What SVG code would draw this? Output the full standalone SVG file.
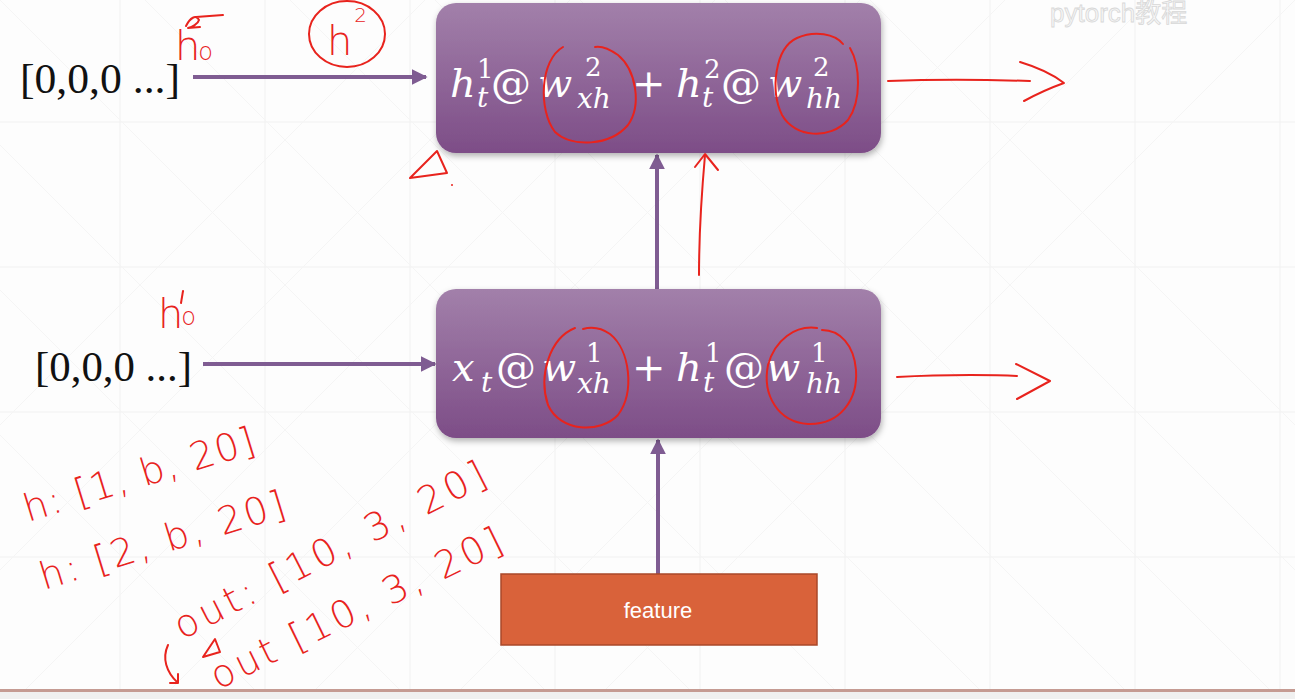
<svg xmlns="http://www.w3.org/2000/svg" width="1295" height="699" viewBox="0 0 1295 699">
<defs>
<linearGradient id="pg" x1="0" y1="0" x2="0" y2="1">
<stop offset="0" stop-color="#a280aa"/>
<stop offset="1" stop-color="#7d4d87"/>
</linearGradient>
<filter id="sh" x="-5%" y="-10%" width="110%" height="125%">
<feDropShadow dx="1" dy="3" stdDeviation="3" flood-color="#000" flood-opacity="0.3"/>
</filter>
<marker id="pa" viewBox="0 0 10 10" refX="9" refY="5" markerWidth="4" markerHeight="4" orient="auto" markerUnits="strokeWidth">
<path d="M0,0 L10,5 L0,10 z" fill="#7f5c92"/>
</marker>
<style>
.grid{stroke:#f1f1f1;stroke-width:1;fill:none}
.conn{stroke:#7f5c92;stroke-width:4;fill:none}
.zero{font-family:"Liberation Serif",serif;font-size:42px;fill:#111}
.m{font-family:"DejaVu Serif",serif;font-style:italic;fill:#fff;font-size:40px}
.mo{font-family:"DejaVu Serif",serif;fill:#fff;font-size:40px}
.mu{font-family:"DejaVu Serif",serif;fill:#fff;font-size:26px}
.ms{font-family:"DejaVu Serif",serif;font-style:italic;fill:#fff;font-size:28px}
.red{stroke:#e8231d;stroke-width:2;fill:none;stroke-linecap:round;stroke-linejoin:round}
.hw{font-family:"DejaVu Sans",sans-serif;font-weight:200;fill:#e8231d}
</style>
</defs>
<rect width="1295" height="699" fill="#fdfdfd"/>
<g id="grid" class="grid">
<path d="M120,0V690M265,0V690M410,0V690M555,0V690M700,0V690M845,0V690M990,0V690M1135,0V690M1280,0V690"/>
<path d="M0,122H1295M0,267H1295M0,412H1295M0,557H1295"/>
<path d="M0,0L690,690M145,0L835,690M290,0L980,690M435,0L1125,690M580,0L1270,690M725,0L1295,570M870,0L1295,425M0,145L545,690M0,290L400,690M0,435L255,690M1295,0L605,690M1150,0L460,690M1005,0L315,690M860,0L170,690M715,0L25,690M570,0L0,570M425,0L0,425" stroke="#f5f5f5"/>
</g>
<text x="1050" y="22" font-family="'Liberation Sans','Noto Sans CJK SC',sans-serif" font-size="26" fill="#f6f6f6" stroke="#d8d8d8" stroke-width="0.8">pytorch教程</text>
<rect x="0" y="689" width="1295" height="3" fill="#c59b93"/>
<rect x="0" y="692" width="1295" height="7" fill="#f0f0f0"/>

<g id="connectors">
<line class="conn" x1="193" y1="77" x2="426" y2="77" marker-end="url(#pa)"/>
<line class="conn" x1="203" y1="364" x2="435" y2="364" marker-end="url(#pa)"/>
<line class="conn" x1="657" y1="289" x2="657" y2="155" marker-end="url(#pa)"/>
<line class="conn" x1="658" y1="574" x2="658" y2="440" marker-end="url(#pa)"/>
</g>

<g id="init2"><text class="zero" x="20" y="93" textLength="160" lengthAdjust="spacingAndGlyphs">[0,0,0 ...]</text></g>
<g id="init1"><text class="zero" x="35" y="381" textLength="157" lengthAdjust="spacingAndGlyphs">[0,0,0 ...]</text></g>

<g id="layer2">
<rect x="436" y="3" width="445" height="150" rx="20" fill="url(#pg)" filter="url(#sh)"/>
<text class="m" x="450" y="97">h</text>
<text class="mu" x="477" y="78">1</text>
<text class="ms" x="477" y="107">t</text>
<text class="mo" x="491" y="97">@</text>
<text class="m" x="538" y="97">w</text>
<text class="mu" x="585" y="76">2</text>
<text class="ms" x="577" y="108">xh</text>
<text class="mo" x="632" y="97">+</text>
<text class="m" x="676" y="97">h</text>
<text class="mu" x="704" y="78">2</text>
<text class="ms" x="702" y="107">t</text>
<text class="mo" x="721" y="97">@</text>
<text class="m" x="768" y="97">w</text>
<text class="mu" x="813" y="76">2</text>
<text class="ms" x="806" y="108">hh</text>
</g>

<g id="layer1">
<rect x="436" y="289" width="445" height="149" rx="20" fill="url(#pg)" filter="url(#sh)"/>
<text class="m" x="452" y="381">x</text>
<text class="ms" x="481" y="392">t</text>
<text class="mo" x="496" y="381">@</text>
<text class="m" x="542" y="381">w</text>
<text class="mu" x="586" y="362">1</text>
<text class="ms" x="577" y="393">xh</text>
<text class="mo" x="632" y="381">+</text>
<text class="m" x="676" y="381">h</text>
<text class="mu" x="705" y="362">1</text>
<text class="ms" x="703" y="392">t</text>
<text class="mo" x="724" y="381">@</text>
<text class="m" x="766" y="381">w</text>
<text class="mu" x="811" y="362">1</text>
<text class="ms" x="806" y="393">hh</text>
</g>

<g id="feature">
<rect x="501" y="574" width="316" height="71" fill="#d9623a" stroke="#a9482a" stroke-width="1.5"/>
<text x="658" y="618" text-anchor="middle" font-family="'Liberation Sans',sans-serif" font-size="22" fill="#fff">feature</text>
</g>

<g id="annotations">
<path class="red" d="M563,47 C540,60 538,110 555,132 C572,148 610,146 628,125 C642,105 636,70 618,55 C608,48 600,46 595,47"/>
<path class="red" d="M843,44 C835,34 815,30 797,38 C775,48 770,90 782,115 C795,138 830,140 848,120 C862,100 860,65 850,48"/>
<path class="red" d="M575,328 C550,338 538,375 548,405 C560,432 600,434 618,415 C635,392 630,350 610,334 C600,327 590,327 583,329"/>
<path class="red" d="M817,328 C795,325 775,340 768,365 C762,395 778,422 808,424 C840,425 858,400 856,370 C854,345 840,330 822,330"/>
<path class="red" d="M888,81 C940,79 1000,80 1030,81"/>
<path class="red" d="M1020,62 C1040,68 1055,76 1064,83 C1050,88 1035,95 1024,101"/>
<path class="red" d="M897,377 C950,374 1000,375 1017,376"/>
<path class="red" d="M1016,364 L1050,381 L1017,399"/>
<path class="red" d="M699,275 C699,240 701,200 705,155"/>
<path class="red" d="M695,167 L705,154 L718,170"/>
<path class="red" d="M410,178 L437,151 L447,173 Z"/>
<circle cx="452" cy="185" r="1" fill="#e8231d"/>
<ellipse class="red" cx="347" cy="34" rx="38" ry="33"/>
<text class="hw" x="327" y="55" font-size="40">h<tspan font-size="20" dx="2" dy="-33">2</tspan></text>
<text class="hw" x="175" y="60" font-size="40">h<tspan font-size="24" dx="-2">o</tspan></text>
<path class="red" d="M186,26 C190,18 196,14 199,20 C198,24 192,27 188,28 L200,27 M196,17 L223,15"/>
<text class="hw" x="158" y="328" font-size="40">h<tspan font-size="24" dx="-2" dy="-3">o</tspan></text>
<path class="red" d="M183,291 L181,303"/>
<text class="hw" font-size="38" textLength="240" transform="translate(28,522) rotate(-17)">h: [1, b, 20]</text>
<text class="hw" font-size="38" textLength="255" transform="translate(44,590) rotate(-17)">h: [2, b, 20]</text>
<text class="hw" font-size="38" textLength="345" transform="translate(182,640) rotate(-27)">out: [10, 3, 20]</text>
<text class="hw" font-size="38" textLength="320" transform="translate(218,690) rotate(-26)">out [10, 3, 20]</text>
<path class="red" d="M203,657 L215,639 L220,652 Z"/>
<path class="red" d="M168,645 C162,658 166,672 178,683 M170,683 L178,683 L178,674"/>
</g>
</svg>
